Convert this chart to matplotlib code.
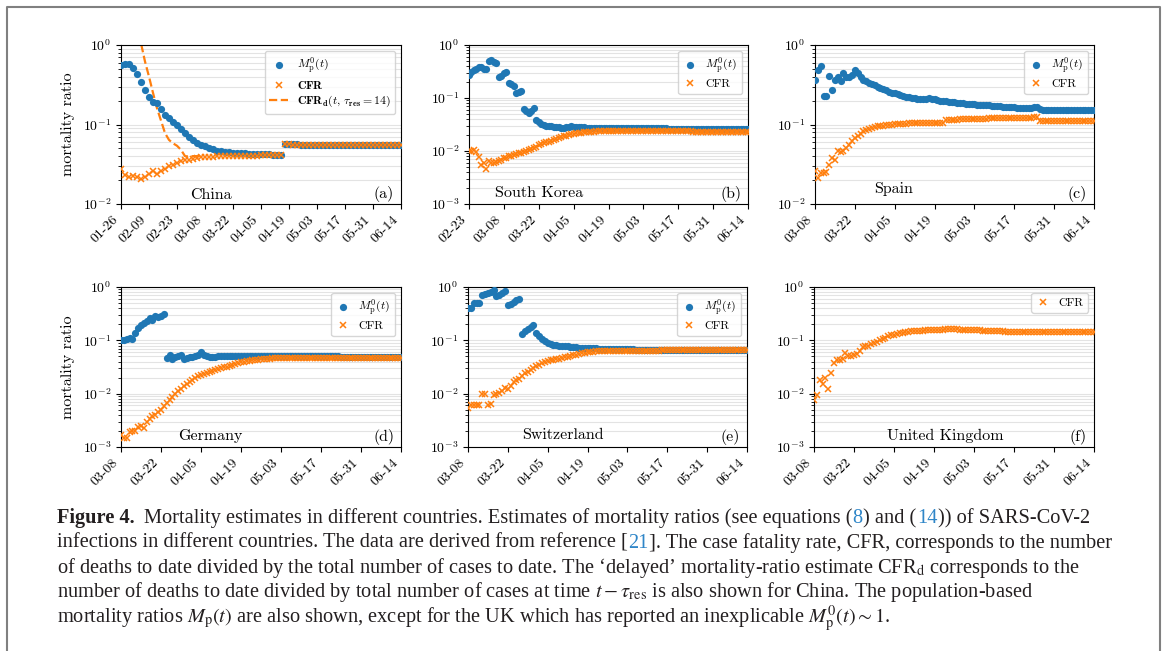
import numpy as np
import matplotlib
matplotlib.use("Agg")
import matplotlib.pyplot as plt
import matplotlib.dates as mdates
from matplotlib.lines import Line2D
from matplotlib.ticker import LogLocator, NullFormatter

plt.rcParams["font.family"] = "cmr10"
plt.rcParams["mathtext.fontset"] = "cm"
plt.rcParams["axes.formatter.use_mathtext"] = True
plt.rcParams["axes.unicode_minus"] = False

BLUE = "#1f77b4"
ORANGE = "#ff7f0e"

# ---- data ----
# China, every 2 days from 01-26
china_mp = [0.56, 0.58, 0.58, 0.52, 0.43, 0.34, 0.27, 0.22, 0.19, 0.185, 0.156, 0.132, 0.12, 0.109,
            0.099, 0.088, 0.078, 0.069, 0.064, 0.059, 0.056, 0.053, 0.050, 0.0486, 0.047, 0.046, 0.045,
            0.0445, 0.044, 0.0437, 0.0435, 0.0432, 0.043, 0.0428, 0.0425, 0.0423, 0.042, 0.042, 0.0418,
            0.0416, 0.0415,
            0.0565, 0.0563, 0.0562, 0.0561, 0.056, 0.056, 0.0559, 0.0558, 0.0558, 0.0557, 0.0557, 0.0556,
            0.0556, 0.0556, 0.0555, 0.0555, 0.0555, 0.0554, 0.0554, 0.0554, 0.0554, 0.0553, 0.0553, 0.0553,
            0.0553, 0.0553, 0.0552, 0.0552, 0.0552, 0.0552]
china_cfr = [0.0275, 0.023, 0.0216, 0.0222, 0.0216, 0.0208, 0.0218, 0.024, 0.0257, 0.024, 0.0257, 0.0275,
             0.0297, 0.031, 0.0327, 0.0343, 0.0353, 0.036, 0.037, 0.0378, 0.0385, 0.039, 0.0392, 0.0395,
             0.0397, 0.0399, 0.040, 0.0402, 0.0403, 0.0404, 0.0405, 0.0406, 0.0406, 0.0407, 0.0407, 0.0408,
             0.0408, 0.0408, 0.0408, 0.0408, 0.0408,
             0.0562, 0.0561, 0.056, 0.0559, 0.0558, 0.0558, 0.0557, 0.0557, 0.0556, 0.0556, 0.0555, 0.0555,
             0.0555, 0.0554, 0.0554, 0.0554, 0.0553, 0.0553, 0.0553, 0.0553, 0.0552, 0.0552, 0.0552, 0.0552,
             0.0551, 0.0551, 0.0551, 0.0551, 0.0551, 0.055]
# delayed CFR, every 2 days from 02-03
china_cfrd = [2.0, 1.05, 0.62, 0.40, 0.25, 0.16, 0.112, 0.078, 0.064, 0.058, 0.054, 0.048, 0.040,
              0.0395, 0.040, 0.040, 0.0405]

# South Korea, daily from 02-23
korea_mp = [0.27, 0.31, 0.34, 0.36, 0.38, 0.38, 0.36, 0.36,
            0.49, 0.51, 0.47, 0.46, 0.25, 0.26, 0.29, 0.31,
            0.195, 0.18, 0.17, 0.123, 0.13, 0.136, 0.062, 0.056,
            0.053, 0.058, 0.064, 0.039, 0.036, 0.033, 0.031, 0.030,
            0.0295, 0.029, 0.0288, 0.028, 0.0278, 0.0275, 0.0275, 0.0278,
            0.0285, 0.029, 0.0288, 0.0283, 0.028, 0.0278, 0.0278, 0.0277,
            0.0277, 0.0276, 0.0276, 0.0275, 0.0275, 0.0275, 0.0274, 0.0274,
            0.0273, 0.0273, 0.0273, 0.0272, 0.0272, 0.0272, 0.0271, 0.0271,
            0.0271, 0.027, 0.027, 0.027, 0.0269, 0.0269, 0.0269, 0.0268,
            0.0268, 0.0268, 0.0267, 0.0267, 0.0267, 0.0266, 0.0266, 0.0266,
            0.0265, 0.0265, 0.0265, 0.0264, 0.0264, 0.0264, 0.0263, 0.0263,
            0.0263, 0.0263, 0.0262, 0.0262, 0.0262, 0.0262, 0.0261, 0.0261,
            0.0261, 0.0261, 0.026, 0.026, 0.026, 0.026, 0.026, 0.0259,
            0.0259, 0.0259, 0.0259, 0.0259, 0.0258, 0.0258, 0.0258, 0.0258, 0.0258]
korea_cfr = [0.0102, 0.010, 0.0105, 0.0095, 0.0076, 0.0055, 0.006, 0.0046,
             0.0065, 0.006, 0.006, 0.0063, 0.0065, 0.0068, 0.0073, 0.0075,
             0.0079, 0.0082, 0.0085, 0.0087, 0.009, 0.0093, 0.0096, 0.0102,
             0.0105, 0.011, 0.0115, 0.012, 0.0127, 0.0133, 0.014, 0.0145,
             0.015, 0.0156, 0.0163, 0.017, 0.0178, 0.0182, 0.019, 0.0195,
             0.0202, 0.0208, 0.0213, 0.0216, 0.0219, 0.0222, 0.0225, 0.0228,
             0.023, 0.0232, 0.0233, 0.0234, 0.0235, 0.0236, 0.0236, 0.0237,
             0.0237, 0.0238, 0.0238, 0.0238, 0.0239, 0.0239, 0.0239, 0.0239,
             0.0239, 0.0239, 0.0239, 0.0239, 0.0239, 0.0238, 0.0238, 0.0238,
             0.0238, 0.0238, 0.0237, 0.0237, 0.0237, 0.0237, 0.0236, 0.0236,
             0.0236, 0.0236, 0.0235, 0.0235, 0.0235, 0.0235, 0.0234, 0.0234,
             0.0234, 0.0234, 0.0233, 0.0233, 0.0233, 0.0233, 0.0232, 0.0232,
             0.0232, 0.0232, 0.0232, 0.0231, 0.0231, 0.0231, 0.0231, 0.0231,
             0.023, 0.023, 0.023, 0.023, 0.023, 0.023, 0.0229, 0.0229, 0.0229]

# Spain, daily from 03-08
spain_mp = [0.36, 0.49, 0.54, 0.23, 0.23, 0.41, 0.27, 0.36,
            0.40, 0.35, 0.44, 0.40, 0.40, 0.42, 0.48, 0.45,
            0.40, 0.36, 0.35, 0.33, 0.32, 0.31, 0.30, 0.286,
            0.28, 0.27, 0.26, 0.25, 0.247, 0.24, 0.235, 0.23,
            0.225, 0.22, 0.215, 0.213, 0.21, 0.21, 0.21, 0.212,
            0.213, 0.21, 0.207, 0.203, 0.2, 0.198, 0.196, 0.194,
            0.192, 0.19, 0.188, 0.186, 0.185, 0.183, 0.182, 0.18,
            0.179, 0.178, 0.177, 0.176, 0.175, 0.174, 0.172, 0.171,
            0.17, 0.169, 0.168, 0.167, 0.166, 0.165, 0.164, 0.163,
            0.162, 0.162, 0.161, 0.161, 0.162, 0.165, 0.164, 0.155,
            0.154, 0.154, 0.154, 0.153, 0.153, 0.153, 0.153, 0.153,
            0.153, 0.153, 0.153, 0.152, 0.152, 0.152, 0.152, 0.152,
            0.152, 0.152, 0.152]
spain_cfr = [0.0257, 0.021, 0.0245, 0.0245, 0.025, 0.0306, 0.038, 0.036,
             0.046, 0.045, 0.046, 0.050, 0.056, 0.062, 0.067, 0.072,
             0.076, 0.082, 0.086, 0.088, 0.091, 0.093, 0.095, 0.096,
             0.097, 0.099, 0.100, 0.100, 0.101, 0.101, 0.102, 0.102,
             0.102, 0.103, 0.103, 0.103, 0.104, 0.104, 0.104, 0.104,
             0.104, 0.104, 0.104, 0.104, 0.104, 0.105, 0.113, 0.114,
             0.114, 0.115, 0.115, 0.116, 0.116, 0.116, 0.117, 0.117,
             0.117, 0.118, 0.118, 0.118, 0.118, 0.119, 0.119, 0.119,
             0.119, 0.119, 0.120, 0.120, 0.120, 0.120, 0.121, 0.121,
             0.121, 0.121, 0.122, 0.122, 0.122, 0.123, 0.123, 0.112,
             0.112, 0.112, 0.112, 0.112, 0.112, 0.112, 0.112, 0.112,
             0.112, 0.112, 0.112, 0.112, 0.112, 0.112, 0.111, 0.111,
             0.111, 0.111, 0.111]

# Germany, daily from 03-08
germany_mp = [0.103, 0.103, 0.106, 0.11, 0.107, 0.137, 0.17, 0.197,
              0.21, 0.227, 0.26, 0.245, 0.28, 0.27, 0.28, 0.31,
              0.047, 0.054, 0.045, 0.048, 0.05, 0.054, 0.045, 0.047,
              0.048, 0.049, 0.05, 0.054, 0.06, 0.054, 0.05, 0.049,
              0.048, 0.049, 0.05, 0.05, 0.05, 0.051, 0.051, 0.051,
              0.051, 0.051, 0.051, 0.051, 0.051, 0.051, 0.051, 0.051,
              0.051, 0.051, 0.051, 0.051, 0.051, 0.051, 0.0505, 0.0505,
              0.0505, 0.0505, 0.0505, 0.0505, 0.0505, 0.0505, 0.05, 0.05,
              0.05, 0.05, 0.05, 0.05, 0.05, 0.05, 0.05, 0.05,
              0.05, 0.05, 0.0498, 0.0498, 0.0498, 0.0497, 0.0497, 0.0497,
              0.0496, 0.0496, 0.0496, 0.0495, 0.0495, 0.0495, 0.0494, 0.0494,
              0.0494, 0.0493, 0.0493, 0.0493, 0.0492, 0.0492, 0.0492, 0.0491,
              0.0491, 0.0491, 0.049]
germany_cfr = [0.0017, 0.0015, 0.0015, 0.0019, 0.002, 0.002, 0.0024, 0.0025,
               0.0023, 0.003, 0.0034, 0.0038, 0.004, 0.0046, 0.005, 0.0058,
               0.0067, 0.0077, 0.0087, 0.0098, 0.011, 0.0122, 0.0137, 0.0152,
               0.0165, 0.018, 0.0198, 0.0212, 0.0227, 0.0237, 0.0245, 0.0255,
               0.0263, 0.0275, 0.0287, 0.030, 0.031, 0.032, 0.0335, 0.035,
               0.0366, 0.0375, 0.0387, 0.040, 0.041, 0.0415, 0.042, 0.0427,
               0.0434, 0.044, 0.0446, 0.0453, 0.0456, 0.0458, 0.046, 0.0462,
               0.0464, 0.0465, 0.0466, 0.0467, 0.0468, 0.0469, 0.047, 0.047,
               0.0471, 0.0471, 0.0472, 0.0472, 0.0472, 0.0473, 0.0473, 0.0473,
               0.0473, 0.0474, 0.0474, 0.0474, 0.0474, 0.0474, 0.0474, 0.0474,
               0.0474, 0.0474, 0.0474, 0.0474, 0.0474, 0.0474, 0.0474, 0.0474,
               0.0474, 0.0474, 0.0474, 0.0474, 0.0474, 0.0474, 0.0474, 0.0474,
               0.0474, 0.0474, 0.0474]

# Switzerland, daily from 03-08
swiss_mp = [0.40, 0.40, 0.50, 0.50, 0.50, 0.72, 0.75, 0.77,
            0.80, 0.89, 0.67, 0.72, 0.77, 0.85, 0.45, 0.48,
            0.52, 0.58, 0.60, 0.13, 0.15, 0.16, 0.175, 0.19,
            0.137, 0.12, 0.106, 0.096, 0.089, 0.085, 0.083, 0.082,
            0.08, 0.079, 0.078, 0.077, 0.076, 0.075, 0.074, 0.073,
            0.073, 0.072, 0.072, 0.071, 0.071, 0.071, 0.07, 0.07,
            0.07, 0.07, 0.069, 0.069, 0.069, 0.069, 0.068, 0.068,
            0.068, 0.068, 0.068, 0.067, 0.067, 0.067, 0.067, 0.067,
            0.067, 0.066, 0.066, 0.066, 0.066, 0.066, 0.066, 0.066,
            0.066, 0.066, 0.065, 0.065, 0.065, 0.065, 0.065, 0.065,
            0.065, 0.065, 0.065, 0.065, 0.065, 0.065, 0.065, 0.065,
            0.065, 0.065, 0.065, 0.065, 0.065, 0.065, 0.065, 0.065,
            0.065, 0.065, 0.065]
swiss_cfr = [0.0055, 0.006, 0.0062, 0.0062, 0.0062, 0.0099, 0.0099, 0.0062,
             0.0064, 0.0093, 0.010, 0.0104, 0.011, 0.013, 0.012, 0.0137,
             0.0165, 0.018, 0.019, 0.0213, 0.0245, 0.026, 0.028, 0.030,
             0.0325, 0.035, 0.037, 0.0387, 0.0405, 0.042, 0.043, 0.044,
             0.0455, 0.047, 0.048, 0.0495, 0.051, 0.052, 0.054, 0.0555,
             0.057, 0.0578, 0.0595, 0.060, 0.061, 0.062, 0.063, 0.063,
             0.0635, 0.0635, 0.064, 0.064, 0.064, 0.064, 0.0642, 0.0642,
             0.0643, 0.0643, 0.0643, 0.0643, 0.0643, 0.0644, 0.0644, 0.0644,
             0.0644, 0.0644, 0.0644, 0.0644, 0.0645, 0.0645, 0.0645, 0.0645,
             0.0645, 0.0645, 0.0645, 0.0645, 0.0645, 0.0645, 0.0645, 0.0645,
             0.0645, 0.0645, 0.0645, 0.0645, 0.0645, 0.0645, 0.0645, 0.0645,
             0.0645, 0.0645, 0.0645, 0.0645, 0.0645, 0.0645, 0.0645, 0.0645,
             0.0645, 0.0645, 0.0645]

# United Kingdom, daily from 03-08
uk_cfr = [0.0077, 0.0093, 0.018, 0.0155, 0.0196, 0.0124, 0.0245, 0.0376,
          0.0435, 0.0435, 0.045, 0.058, 0.05, 0.05, 0.052, 0.055,
          0.064, 0.074, 0.077, 0.08, 0.085, 0.089, 0.093, 0.10,
          0.106, 0.113, 0.119, 0.124, 0.128, 0.13, 0.137, 0.14,
          0.143, 0.145, 0.147, 0.149, 0.15, 0.151, 0.152, 0.153,
          0.154, 0.155, 0.156, 0.157, 0.158, 0.159, 0.16, 0.162,
          0.161, 0.16, 0.16, 0.159, 0.158, 0.158, 0.157, 0.156,
          0.155, 0.154, 0.153, 0.152, 0.151, 0.15, 0.149, 0.148,
          0.148, 0.147, 0.147, 0.146, 0.146, 0.146, 0.145, 0.145,
          0.145, 0.145, 0.144, 0.144, 0.144, 0.144, 0.144, 0.143,
          0.143, 0.143, 0.143, 0.143, 0.143, 0.143, 0.143, 0.143,
          0.143, 0.143, 0.143, 0.143, 0.143, 0.143, 0.143, 0.143,
          0.143, 0.143, 0.143]


def days(start, n, step=1):
    return np.datetime64(start) + np.arange(n) * np.timedelta64(step, "D")


W, H = 1163, 651
fig = plt.figure(figsize=(W / 100, H / 100), dpi=100)


def px_axes(l, t, r, b):
    return fig.add_axes([l / W, 1 - b / H, (r - l) / W, (b - t) / H])


panels = [
    # rect, start, number of 2-week steps, ymin, name, name_x, name_y, tag
    ((121, 45, 401, 204), "2020-01-26", 10, 1e-2, "China", 0.32, 0.031, "(a)"),
    ((469, 45, 748, 204), "2020-02-23", 8, 1e-3, "South Korea", 0.25, 0.044, "(b)"),
    ((815, 45, 1094, 204), "2020-03-08", 7, 1e-2, "Spain", 0.28, 0.069, "(c)"),
    ((121, 287, 401, 447), "2020-03-08", 7, 1e-3, "Germany", 0.32, 0.044, "(d)"),
    ((468, 287, 747, 447), "2020-03-08", 7, 1e-3, "Switzerland", 0.34, 0.05, "(e)"),
    ((814, 287, 1094, 447), "2020-03-08", 7, 1e-3, "United Kingdom", 0.47, 0.044, "(f)"),
]

series = [
    [("mp", days("2020-01-26", len(china_mp), 2), china_mp),
     ("cfr", days("2020-01-26", len(china_cfr), 2), china_cfr),
     ("cfrd", days("2020-02-03", len(china_cfrd), 2), china_cfrd)],
    [("mp", days("2020-02-23", len(korea_mp)), korea_mp),
     ("cfr", days("2020-02-23", len(korea_cfr)), korea_cfr)],
    [("mp", days("2020-03-08", len(spain_mp)), spain_mp),
     ("cfr", days("2020-03-08", len(spain_cfr)), spain_cfr)],
    [("mp", days("2020-03-08", len(germany_mp)), germany_mp),
     ("cfr", days("2020-03-08", len(germany_cfr)), germany_cfr)],
    [("mp", days("2020-03-08", len(swiss_mp)), swiss_mp),
     ("cfr", days("2020-03-08", len(swiss_cfr)), swiss_cfr)],
    [("cfr", days("2020-03-08", len(uk_cfr)), uk_cfr)],
]

for i, (rect, start, nt, ymin, name, nx, ny, tag) in enumerate(panels):
    ax = px_axes(*rect)
    bold = i == 0
    for kind, x, y in series[i]:
        if kind == "mp":
            ax.plot(x, y, "o", color=BLUE, ms=5.2, mew=0, label=r"$M_\mathrm{p}^0(t)$", zorder=3)
        elif kind == "cfr":
            ax.plot(x, y, "x", color=ORANGE, ms=4.4, mew=1.1,
                    label=r"$\mathbf{CFR}$" if bold else "CFR", zorder=4)
        else:
            ax.plot(x, y, "--", color=ORANGE, lw=1.6, zorder=2,
                    label=r"$\mathbf{CFR}_\mathbf{d}(t,\,\tau_\mathbf{res}=\mathbf{14})$")
    ax.set_yscale("log")
    ax.set_ylim(ymin, 1)
    ax.yaxis.set_major_locator(LogLocator(base=10))
    ax.yaxis.set_minor_locator(LogLocator(base=10, subs=np.arange(2, 10)))
    ax.yaxis.set_minor_formatter(NullFormatter())
    ticks = days(start, nt + 1, 14)
    ax.set_xticks(mdates.date2num(ticks))
    ax.set_xlim(mdates.date2num(ticks[0]), mdates.date2num(ticks[-1]))
    ax.xaxis.set_major_formatter(mdates.DateFormatter("%m-%d"))
    ax.tick_params(labelsize=10)
    for lab in ax.get_xticklabels():
        lab.set_rotation(45)
        lab.set_ha("right")
    ax.grid(True, which="both", axis="y", color="#e3e3e3", lw=0.8)
    ax.set_axisbelow(True)
    ax.text(nx, ny, name, transform=ax.transAxes, ha="center", va="baseline", fontsize=11.5)
    ax.text(0.975, 0.04, tag, transform=ax.transAxes, ha="right", va="baseline", fontsize=11.5)
    ax.legend(loc="upper right", fontsize=8.5, numpoints=1, handlelength=1.6 if bold else 1.2,
              borderpad=0.4, labelspacing=0.25, handletextpad=0.7)
    if i in (0, 3):
        ax.set_ylabel("mortality ratio", fontsize=11.5)
        ax.yaxis.set_label_coords(-0.165, 0.5)

# frame around the figure
fig.add_artist(Line2D([7 / W, 7 / W, 1160 / W, 1160 / W], [0, 1 - 7 / H, 1 - 7 / H, 0],
                      color="#808080", lw=1.5))

# caption
LINK = "#2f86c8"
TXT = "#231f20"
caption = [
    [("Figure 4.", TXT, "bold", 0),
     ("Mortality estimates in different countries. Estimates of mortality ratios (see equations (", TXT, "normal", 9),
     ("8", LINK, "normal", 0.5), (") and (", TXT, "normal", 0.5), ("14", LINK, "normal", 0.5),
     (")) of SARS-CoV-2", TXT, "normal", 0.5)],
    [("infections in different countries. The data are derived from reference [", TXT, "normal", 0),
     ("21", LINK, "normal", 0.5), ("]. The case fatality rate, CFR, corresponds to the number", TXT, "normal", 0.5)],
    [("of deaths to date divided by the total number of cases to date. The \u2018delayed\u2019 "
      "mortality-ratio estimate CFR$_\\mathrm{d}$ corresponds to the", TXT, "normal", 0)],
    [("number of deaths to date divided by total number of cases at time $t-\\tau_\\mathrm{res}$ "
      "is also shown for China. The population-based", TXT, "normal", 0)],
    [("mortality ratios $M_\\mathrm{p}(t)$ are also shown, except for the UK which has reported an "
      "inexplicable $M_\\mathrm{p}^0(t)\\sim1$.", TXT, "normal", 0)],
]

renderer = fig.canvas.get_renderer()


def draw_line(x, y, parts, size):
    arts = []
    for s, c, wt, gap in parts:
        x += gap
        t = fig.text(x / W, 1 - y / H, s, fontsize=size, color=c, weight=wt, ha="left", va="baseline",
                     family="Liberation Serif", math_fontfamily="stix")
        arts.append(t)
        x = t.get_window_extent(renderer).x1
    return arts, x


X0 = 57
probe, xe = draw_line(X0, 0, caption[1], 12)
for a in probe:
    a.remove()
csize = 12 * (1108 - X0) / (xe - X0)
for k, parts in enumerate(caption):
    draw_line(X0, 523 + 24.8 * k, parts, csize)

fig.savefig("out.png", dpi=100)
